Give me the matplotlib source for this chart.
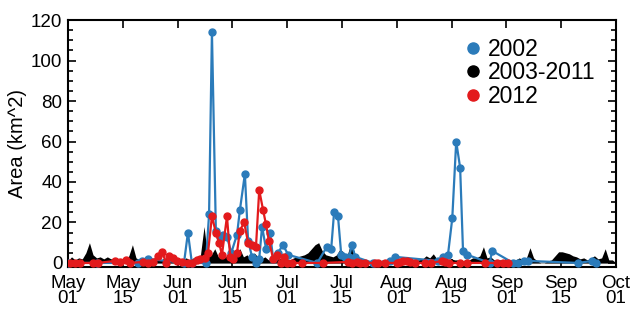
import numpy as np
import matplotlib
matplotlib.use("Agg")
import matplotlib.pyplot as plt
from matplotlib.lines import Line2D

plt.rcParams['font.family'] = ['Liberation Sans', 'DejaVu Sans']

# x values are days after May 01

# 2002
days_2002 = [0, 8, 19.6, 20.7, 22.3, 32.4, 33.5, 34.6, 38.5, 39.4, 40.2, 41.3,
             42.5, 43.3, 44.4, 45.6, 47.2, 48, 49.4, 50.3, 51.4, 52.5, 53.4,
             54.2, 55.3, 56.4, 57.3, 58.7, 60, 61.5, 69.6, 72.3, 73.5, 74.3,
             75.4, 76.3, 77.4, 78.5, 79.3, 80.2, 85.2, 90, 91.3, 103.4, 104.7,
             106.1, 107.3, 108.4, 109.5, 110.3, 111.5, 117.8, 118.4, 124.3,
             125.7, 127.4, 128.5, 142.5, 146.4, 147.5]
area_2002 = [0, 0, 0, 1, 2, 0, 15, 0, 0, 24, 114, 16,
             13, 14, 13, 5, 14, 26, 44, 11, 3, 0, 2,
             18, 7, 15, 2, 5, 9, 4, 0, 8, 7, 25,
             23, 4, 3, 3, 9, 3, 0, 1, 3, 1, 3,
             4, 22, 60, 47, 6, 4, 0, 6, 0,
             0, 1, 1, 0, 1, 0]

# 2012
days_2012 = [0.6, 2, 3.4, 7, 8.4, 13.1, 14.5, 16.2, 17.3, 21, 22.3, 23.7, 25.1,
             26.3, 27.4, 28.2, 29.3, 30.4, 31.8, 33.5, 34.6, 36, 36.9, 38.3,
             39.1, 40.2, 41.3, 42.2, 43, 44.4, 45.3, 46.1, 47.2, 48, 49.2, 50.3,
             51.4, 52.5, 53.4, 54.5, 55.3, 56.1, 57.3, 58.4, 59.5, 60.3, 61.2,
             62.6, 65.4, 71.2, 78.2, 79.3, 80.7, 81.6, 83, 85.8, 86.6, 88.5,
             91.9, 92.7, 93.6, 94.7, 95.5, 96.9, 99.7, 101.4, 104.5, 105.3,
             106.4, 109.5, 111.5, 116.5, 119.8, 121.5, 122.9]
area_2012 = [0, 0, 0, 0, 0, 1, 0.5, 1.5, 0, 0.5, 0, 0.5, 3.5,
             5.5, 0, 3.5, 2.5, 1, 0.5, 0, 0, 1.5, 2, 2.5,
             5, 23, 15, 10, 4, 23, 3, 2, 5, 16, 20, 10,
             9, 8, 36, 26, 19, 11, 2, 4, 0, 3, 0,
             0, 0, 0, 0.5, 0, 0.5, 0, 0, 0, 0, 0,
             0, 0.5, 1, 1, 0.5, 0, 0, 0, 1, 0.5,
             0, 0, 0, 0, 0, 0, 0]

# 2003-2011 (daily, days 0..153)
area_0311 = [1, 3, 1.5, 2.5, 2, 5, 10, 4, 2.5, 3, 2, 3, 2, 2.5, 1.5, 2,
             1.5, 3.5, 9, 2.5, 1.5, 2, 1.5, 2, 1.5, 2.5, 1.5, 2.5, 1.5, 2, 1.5, 2.5,
             1.5, 2.5, 1.5, 2.5, 2, 4, 18, 3, 4, 7, 3, 4, 3, 5, 3, 5,
             7, 3, 4, 2, 5, 3, 2, 3, 1.5, 2, 1.5, 2.5, 1.5, 2, 1.5, 2.5,
             3, 3.5, 4, 5, 7, 9, 10, 6, 4, 3.5, 3, 4, 7, 5, 4, 10,
             5, 1.5, 1.5, 1, 1, 0.5, 1, 1, 1.5, 1.5, 1.5, 1, 1.5, 1, 1.5, 1.5,
             1.5, 1.5, 1.5, 2, 3.5, 2.5, 4.5, 2, 1.5, 1.5, 1.5, 2, 1.5, 1.5, 1, 1.5,
             1.5, 2.5, 2.5, 3.5, 8, 2.5, 3, 1.5, 1.5, 1.5, 1.5, 1, 1.5, 1.5, 2.5, 1.5,
             2.5, 7.5, 2.5, 1, 0, 0, 1, 1.5, 3.5, 5.5, 5.5, 5, 4.5, 3.5, 3, 2,
             2.5, 1.5, 2.5, 3.5, 2, 2.5, 7, 1.5, 1.5, 0]

tick_labels = ['May\n01', 'May\n15', 'Jun\n01', 'Jun\n15', 'Jul\n01', 'Jul\n15',
               'Aug\n01', 'Aug\n15', 'Sep\n01', 'Sep\n15', 'Oct\n01']

blue = '#2b7bba'
red = '#e31a1c'

fig = plt.figure(figsize=(6.35, 3.09), dpi=100)
ax = fig.add_axes([0.107, 0.136, 0.863, 0.799])

ax.axhline(0, color='#b0b0b0', lw=1.5, zorder=1)
ax.fill_between(np.arange(len(area_0311)), 0, area_0311, color='black',
                lw=0, zorder=2)
ax.plot(days_2002, area_2002, '-o', color=blue, lw=1.6, ms=5, zorder=3)
ax.plot(days_2012, area_2012, '-o', color=red, lw=1.6, ms=5, zorder=4)

ax.set_xlim(0, 153)
ax.set_ylim(-2, 120)
ax.set_xticks(np.linspace(0, 153, len(tick_labels)))
ax.set_xticklabels(tick_labels, fontsize=13.5, linespacing=0.85)
ax.set_yticks([0, 20, 40, 60, 80, 100, 120])
ax.set_yticks(np.arange(0, 121, 5), minor=True)
ax.tick_params(axis='y', labelsize=13.5)
ax.tick_params(which='both', direction='in', top=True, right=True, width=1.2)
ax.tick_params(which='major', length=6, pad=4)
ax.tick_params(which='minor', length=3.5)
ax.tick_params(axis='x', which='minor', bottom=False, top=False)
ax.tick_params(axis='x', pad=6)
for s in ax.spines.values():
    s.set_linewidth(1.5)

ax.set_ylabel('Area (km^2)', fontsize=14.5, labelpad=3)

handles = [Line2D([], [], ls='none', marker='o', color=c, ms=8)
           for c in [blue, 'black', red]]
ax.legend(handles, ['2002', '2003-2011', '2012'], loc='upper right',
          bbox_to_anchor=(0.98, 0.965), frameon=False, fontsize=16.5,
          handletextpad=0.05, labelspacing=0.02, handlelength=1.2,
          borderaxespad=0)

fig.savefig('out.png', dpi=100)
